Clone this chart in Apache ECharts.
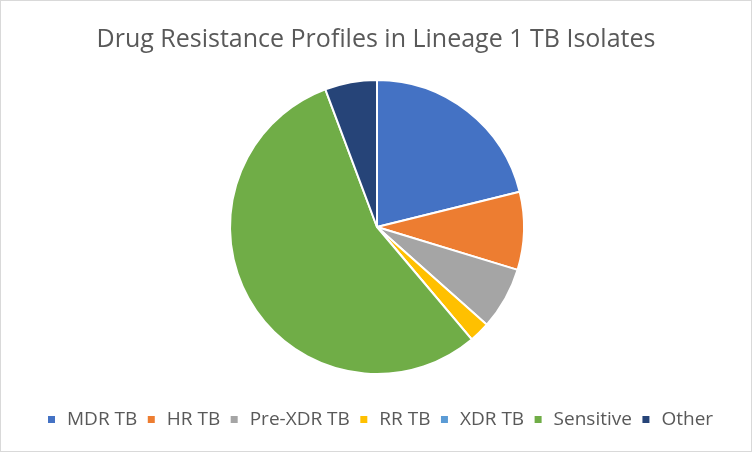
<!DOCTYPE html>
<html><head><meta charset="utf-8">
<script src="https://cdn.jsdelivr.net/npm/echarts@6/dist/echarts.min.js"></script>
<style>html,body{margin:0;padding:0;background:#fff}#c{width:750px;height:450px;border:1px solid #d9d9d9}</style>
</head><body><div id="c"></div>
<script>
const categories = ['MDR TB','HR TB','Pre-XDR TB','RR TB','XDR TB','Sensitive','Other'];
const values = [37, 15, 12, 4, 0, 97, 10];
const colors = ['#4472C4','#ED7D31','#A5A5A5','#FFC000','#5B9BD5','#70AD47','#264478'];
const chart = echarts.init(document.getElementById('c'));
chart.setOption({
  animation:false,
  title:{text:'Drug Resistance Profiles in Lineage 1 TB Isolates',left:'center',top:21,
    textStyle:{fontFamily:'Open Sans',fontSize:25,fontWeight:'normal',color:'#595959'}},
  legend:{top:404,left:42,icon:'rect',itemWidth:7,itemHeight:7,itemGap:10.5,itemStyle:{borderWidth:0},
    textStyle:{fontFamily:'Open Sans',fontSize:19,color:'#595959',padding:[0,0,0,7]},data:categories},
  series:[{type:'pie',center:[376,226],radius:147,startAngle:90,clockwise:true,
    label:{show:false},labelLine:{show:false},
    itemStyle:{borderColor:'#fff',borderWidth:2},
    emphasis:{disabled:true},
    data:categories.map((c,i)=>({name:c,value:values[i],itemStyle:{color:colors[i]}}))}]
});
</script></body></html>
